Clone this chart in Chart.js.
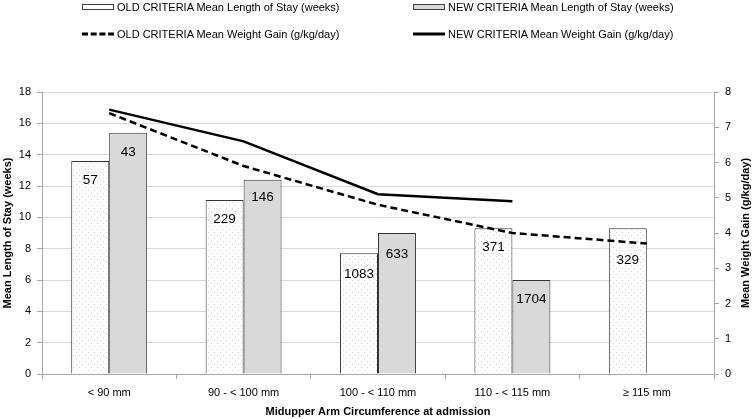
<!DOCTYPE html>
<html>
<head>
<meta charset="utf-8">
<script src="https://cdn.jsdelivr.net/npm/chart.js@4.4.1/dist/chart.umd.min.js"></script>
<style>
  html, body { margin: 0; padding: 0; background: #fff; }
  #wrap { position: relative; width: 752px; height: 419px; }
  #c { position: absolute; left: 0; top: 0; }
  .lg { position: absolute; font-family: "Liberation Sans", Arial, sans-serif; font-size: 11px; color: #000; white-space: nowrap; line-height: 13px; }
  .sw { position: absolute; box-sizing: border-box; }
  svg.sw { overflow: visible; }
</style>
</head>
<body>
<div id="wrap">
  <canvas id="c" width="752" height="419"></canvas>
</div>
<script>
const categories = ['< 90 mm', '90 - < 100 mm', '100 - < 110 mm', '110 - < 115 mm', '\u2265 115 mm'];
const oldLos = [13.6, 11.1, 7.7, 9.3, 9.3];
const newLos = [15.4, 12.4, 9.0, 6.0, null];
const oldN = [57, 229, 1083, 371, 329];
const newN = [43, 146, 633, 1704, null];
const oldWg = [7.4, 5.9, 4.8, 4.0, 3.7];
const newWg = [7.5, 6.6, 5.1, 4.9, null];
const legendLabels = [
  'OLD CRITERIA Mean Length of Stay (weeks)',
  'NEW CRITERIA Mean Length of Stay (weeks)',
  'OLD CRITERIA Mean Weight Gain (g/kg/day)',
  'NEW CRITERIA Mean Weight Gain (g/kg/day)'
];

// HTML legend
(function () {
  const wrap = document.getElementById('wrap');
  const pos = [[82, 7], [413, 7], [82, 34], [413, 34]];
  pos.forEach((p, i) => {
    let sw;
    if (i < 2) {
      sw = document.createElement('div');
      sw.className = 'sw';
      sw.style.left = p[0] + 'px';
      sw.style.top = (p[1] - 3) + 'px';
      sw.style.width = '32px';
      sw.style.height = '6px';
      sw.style.border = '1px solid #404040';
      sw.style.background = i === 0 ? '#ffffff' : '#d9d9d9';
    } else {
      sw = document.createElementNS('http://www.w3.org/2000/svg', 'svg');
      sw.setAttribute('class', 'sw');
      sw.setAttribute('width', '32');
      sw.setAttribute('height', '4');
      sw.style.left = p[0] + 'px';
      sw.style.top = (p[1] - 2) + 'px';
      const ln = document.createElementNS('http://www.w3.org/2000/svg', 'line');
      ln.setAttribute('x1', '0'); ln.setAttribute('x2', '32');
      ln.setAttribute('y1', '2'); ln.setAttribute('y2', '2');
      ln.setAttribute('stroke', '#000');
      ln.setAttribute('stroke-width', '3');
      if (i === 2) ln.setAttribute('stroke-dasharray', '6 2.7');
      sw.appendChild(ln);
    }
    wrap.appendChild(sw);
    const t = document.createElement('div');
    t.className = 'lg';
    t.style.left = (p[0] + 35) + 'px';
    t.style.top = (p[1] - 6.5) + 'px';
    t.textContent = legendLabels[i];
    wrap.appendChild(t);
  });
})();

function dotPattern() {
  const pc = document.createElement('canvas');
  pc.width = 6; pc.height = 6;
  const g = pc.getContext('2d');
  g.fillStyle = '#ffffff';
  g.fillRect(0, 0, 6, 6);
  g.fillStyle = '#d0d0d0';
  g.fillRect(1, 1, 1, 1);
  g.fillRect(4, 4, 1, 1);
  return document.getElementById('c').getContext('2d').createPattern(pc, 'repeat');
}

const sans = '"Liberation Sans", Arial, sans-serif';
const rightTitle = 'Mean Weight Gain (g/kg/day)';
// vertical offset (px) of each count label below its bar top
const labelOffsets = [[19, 19, 21, 19, 32], [20, 18, 21, 19, 19]];

const labelPlugin = {
  id: 'barLabels',
  afterDatasetsDraw(chart) {
    const ctx = chart.ctx;
    ctx.save();
    ctx.font = '13.5px ' + sans;
    ctx.fillStyle = '#000';
    ctx.textAlign = 'center';
    ctx.textBaseline = 'middle';
    [[0, oldN], [1, newN]].forEach(([di, arr]) => {
      const meta = chart.getDatasetMeta(di);
      meta.data.forEach((bar, i) => {
        if (arr[i] == null) return;
        ctx.fillText(String(arr[i]), bar.x, bar.y + labelOffsets[di][i]);
      });
    });
    ctx.restore();
  },
  afterDraw(chart) {
    const ctx = chart.ctx;
    const a = chart.chartArea;
    ctx.save();
    ctx.font = 'bold 11px ' + sans;
    ctx.fillStyle = '#000';
    ctx.textAlign = 'center';
    ctx.textBaseline = 'middle';
    ctx.translate(745.5, (a.top + a.bottom) / 2);
    ctx.rotate(-Math.PI / 2);
    ctx.fillText(rightTitle, 0, 0);
    ctx.restore();
  }
};

new Chart(document.getElementById('c'), {
  type: 'bar',
  data: {
    labels: categories,
    datasets: [
      {
        type: 'bar', label: legendLabels[0], data: oldLos, yAxisID: 'y',
        backgroundColor: dotPattern(), borderColor: '#333333', borderWidth: 1,
        barPercentage: 1, categoryPercentage: 0.565, order: 2
      },
      {
        type: 'bar', label: legendLabels[1], data: newLos, yAxisID: 'y',
        backgroundColor: '#d9d9d9', borderColor: '#333333', borderWidth: 1,
        barPercentage: 1, categoryPercentage: 0.565, order: 2
      },
      {
        type: 'line', label: legendLabels[2], data: oldWg, yAxisID: 'y1',
        borderColor: '#000', borderWidth: 2.5, borderDash: [7, 4],
        pointRadius: 0, fill: false, tension: 0, order: 1
      },
      {
        type: 'line', label: legendLabels[3], data: newWg, yAxisID: 'y1',
        borderColor: '#000', borderWidth: 2.5,
        pointRadius: 0, fill: false, tension: 0, order: 0
      }
    ]
  },
  options: {
    responsive: false,
    animation: false,
    devicePixelRatio: 1,
    layout: { padding: { top: 92, left: 0, right: 0, bottom: 0 } },
    plugins: { legend: { display: false }, tooltip: { enabled: false } },
    scales: {
      x: {
        grid: { offset: true, drawOnChartArea: false, tickLength: 5, color: '#a6a6a6' },
        border: { color: '#a6a6a6' },
        ticks: { color: '#000', font: { family: sans, size: 11 }, padding: 7, maxRotation: 0 },
        title: { display: true, text: 'Midupper Arm Circumference at admission', color: '#000',
                 font: { family: sans, size: 11, weight: 'bold' }, padding: { top: 0.5, bottom: 0 } },
        afterFit(s) { s.height = 45; }
      },
      y: {
        position: 'left', min: 0, max: 18,
        grid: { color: '#d9d9d9', tickLength: 5, tickColor: '#a6a6a6' },
        border: { color: '#a6a6a6' },
        ticks: { stepSize: 2, color: '#000', font: { family: sans, size: 11 }, padding: 6 },
        title: { display: true, text: 'Mean Length of Stay (weeks)', color: '#000',
                 font: { family: sans, size: 11, weight: 'bold' }, padding: { top: 1, bottom: 0 } },
        afterFit(s) { s.width = 42; }
      },
      y1: {
        position: 'right', min: 0, max: 8,
        grid: { drawOnChartArea: false, tickLength: 5, color: '#a6a6a6' },
        border: { color: '#a6a6a6' },
        ticks: { stepSize: 1, color: '#000', font: { family: sans, size: 11 }, padding: 6 },
        title: { display: false },
        afterFit(s) { s.width = 38; }
      }
    }
  },
  plugins: [labelPlugin]
});
</script>
</body>
</html>
